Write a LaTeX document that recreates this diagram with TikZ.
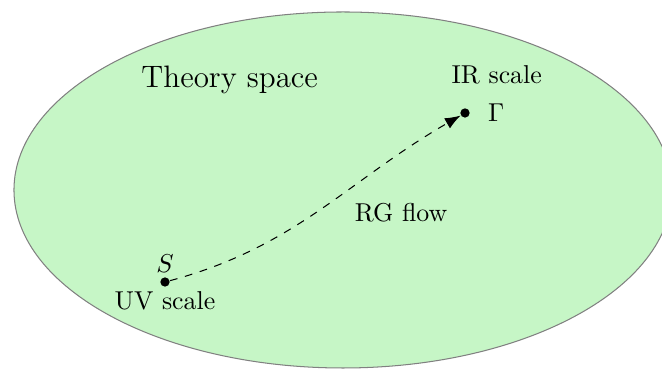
\documentclass[tikz,border=0pt]{standalone}
\usepackage{amsmath}
\usepackage{xcolor}
\usetikzlibrary{arrows.meta,positioning}

\definecolor{theoryfill}{RGB}{198,246,198}

\tikzset{
  pt/.style={circle, fill=black, inner sep=0pt, minimum size=3.6pt},
  flow/.style={dashed, -{Latex[length=6pt,width=4.5pt]}}
}

\begin{document}
\begin{tikzpicture}

\useasboundingbox (-4.663,-2.434) rectangle (4.337,2.583);

%%% --- Theory space --- %%%
\draw[gray, fill=theoryfill] (0,0) ellipse [x radius=4.473, y radius=2.42];

\node[font=\large] (title) at (-1.54,1.50) {Theory space};


%%% --- Fixed points --- %%%
\node[pt] (S) at (-2.42,-1.251) {};
\node[pt] (G) at (1.659,1.047) {};

\node[above=0pt of S.center] (Slab) {$S$};
\node[below=0pt of S.center] (UV) {UV scale};
\node[right=3.4pt of G] (Glab) {$\Gamma$};
\node (IR) at (2.09,1.56) {IR scale};


%%% --- RG flow --- %%%
\draw[flow] (S) to[out=15, in=210] (G);

\node (rg) at (0.79,-0.31) {RG flow};

\end{tikzpicture}
\end{document}
